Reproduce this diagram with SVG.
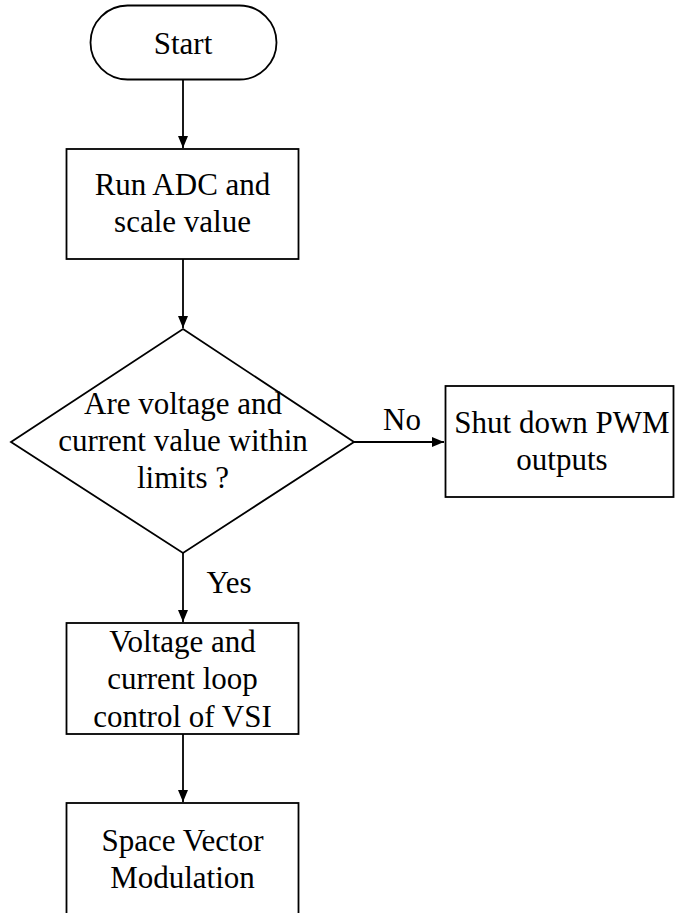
<svg xmlns="http://www.w3.org/2000/svg" width="675" height="913" viewBox="0 0 675 913">
<style>
.shape{fill:#fff;stroke:#000;stroke-width:1.8}
.t{font-family:"Liberation Serif","Times New Roman",serif;font-size:31px;fill:#000;text-anchor:middle}
.edge{stroke:#000;stroke-width:1.8;fill:none}
</style>
<defs>
<marker id="ah" viewBox="0 0 12 10" refX="12" refY="5" markerWidth="12" markerHeight="10" markerUnits="userSpaceOnUse" orient="auto">
<path d="M0,0 L12,5 L0,10 Z" fill="#000"/>
</marker>
</defs>
<rect width="675" height="913" fill="#fff"/>
<g id="connectors">
<line class="edge" x1="183" y1="80" x2="183" y2="148" marker-end="url(#ah)"/>
<line class="edge" x1="183" y1="259" x2="183" y2="328" marker-end="url(#ah)"/>
<line class="edge" x1="354" y1="442" x2="444" y2="442" marker-end="url(#ah)"/>
<line class="edge" x1="183" y1="553" x2="183" y2="622" marker-end="url(#ah)"/>
<line class="edge" x1="183" y1="734" x2="183" y2="802" marker-end="url(#ah)"/>
<text class="t" x="402" y="430">No</text>
<text class="t" x="229" y="593">Yes</text>
</g>
<g id="start">
<rect class="shape" x="90.5" y="5.5" width="186" height="74" rx="37" ry="37"/>
<text class="t" x="183" y="54">Start</text>
</g>
<g id="adc">
<rect class="shape" x="66.5" y="149" width="232" height="110"/>
<text class="t" x="182.5" y="195">Run ADC and</text>
<text class="t" x="182.5" y="232">scale value</text>
</g>
<g id="decision">
<polygon class="shape" points="183,329 354,442 183,553 11,442"/>
<text class="t" x="183" y="414">Are voltage and</text>
<text class="t" x="183" y="451">current value within</text>
<text class="t" x="183" y="488">limits ?</text>
</g>
<g id="shutdown">
<rect class="shape" x="445.5" y="386" width="228" height="111"/>
<text class="t" x="562" y="433">Shut down PWM</text>
<text class="t" x="562" y="470">outputs</text>
</g>
<g id="control">
<rect class="shape" x="66.5" y="623" width="232" height="111"/>
<text class="t" x="182.5" y="652">Voltage and</text>
<text class="t" x="182.5" y="689">current loop</text>
<text class="t" x="182.5" y="727">control of VSI</text>
</g>
<g id="svm">
<rect class="shape" x="66.5" y="803" width="232" height="130"/>
<text class="t" x="182.5" y="851">Space Vector</text>
<text class="t" x="182.5" y="888">Modulation</text>
</g>
</svg>
